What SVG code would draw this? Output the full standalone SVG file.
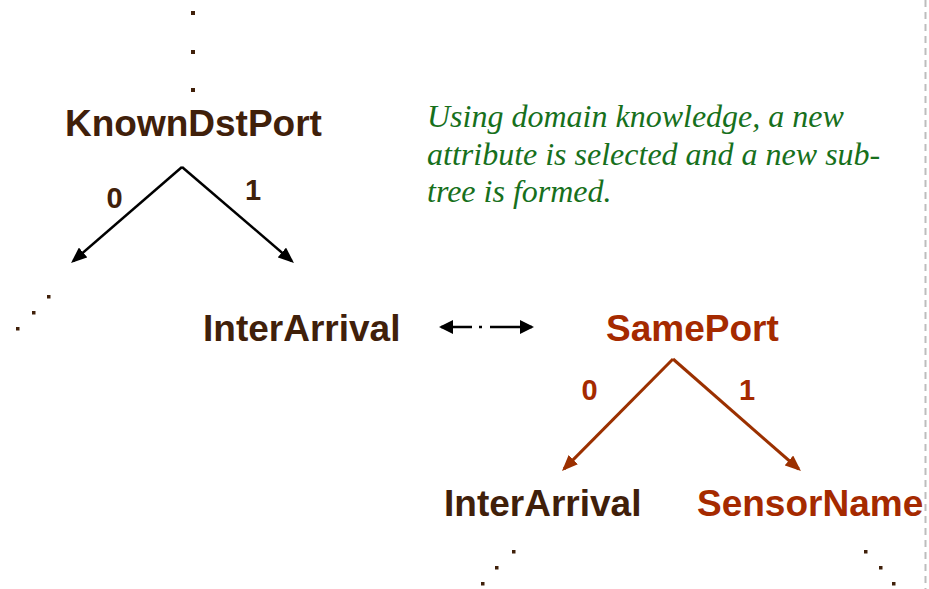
<svg xmlns="http://www.w3.org/2000/svg" width="929" height="589" viewBox="0 0 929 589">
<style>
.node{font-family:"Liberation Sans",Arial,sans-serif;font-weight:bold;font-size:37px}
.brown{fill:#40200a}
.red{fill:#a52a00}
.lbl{font-family:"Liberation Sans",Arial,sans-serif;font-weight:bold;font-size:29px;text-anchor:middle}
.note{font-family:"Liberation Serif","Times New Roman",serif;font-style:italic;font-size:32px;fill:#17701c}
.blk{stroke:#000;stroke-width:2.5;fill:none}
.rd{stroke:#9b3000;stroke-width:3;fill:none}
.dot{fill:#40200a}
</style>
<defs>
<marker id="ahBlack" viewBox="0 0 16 13" refX="13" refY="6.5" markerWidth="16" markerHeight="13" markerUnits="userSpaceOnUse" orient="auto">
<path d="M0,0 L16,6.5 L0,13 z" fill="#000"/>
</marker>
<marker id="ahRed" viewBox="0 0 16 13" refX="13" refY="6.5" markerWidth="16" markerHeight="13" markerUnits="userSpaceOnUse" orient="auto">
<path d="M0,0 L16,6.5 L0,13 z" fill="#9b3000"/>
</marker>
<marker id="ahSmall" viewBox="0 0 14 14" refX="12" refY="7" markerWidth="14" markerHeight="14" markerUnits="userSpaceOnUse" orient="auto-start-reverse">
<path d="M0,0 L14,7 L0,14 z" fill="#000"/>
</marker>
</defs>

<line x1="925.5" y1="0" x2="925.5" y2="589" stroke="#bdbdbd" stroke-width="2" stroke-dasharray="7 5"/>

<g id="dots">
<rect class="dot" x="191" y="11" width="4" height="4"/>
<rect class="dot" x="191" y="50" width="4" height="4"/>
<rect class="dot" x="191" y="88" width="4" height="4"/>
<rect class="dot" x="47" y="295" width="3.5" height="3.5"/>
<rect class="dot" x="32" y="311" width="3.5" height="3.5"/>
<rect class="dot" x="16" y="327" width="3.5" height="3.5"/>
<rect class="dot" x="512" y="550" width="3.5" height="3.5"/>
<rect class="dot" x="495" y="566" width="3.5" height="3.5"/>
<rect class="dot" x="481" y="582" width="3.5" height="3.5"/>
<rect class="dot" x="864" y="550" width="3.5" height="3.5"/>
<rect class="dot" x="879" y="566" width="3.5" height="3.5"/>
<rect class="dot" x="892" y="582" width="3.5" height="3.5"/>
</g>

<g id="n-knowndstport"><text class="node brown" x="65" y="136">KnownDstPort</text></g>
<g id="n-interarrival1"><text class="node brown" x="203" y="341">InterArrival</text></g>
<g id="n-sameport"><text class="node red" x="606" y="341">SamePort</text></g>
<g id="n-interarrival2"><text class="node brown" x="444" y="516">InterArrival</text></g>
<g id="n-sensorname"><text class="node red" x="697" y="516">SensorName</text></g>

<g id="note">
<text class="note" x="427" y="127">Using domain knowledge, a new</text>
<text class="note" x="427" y="165">attribute is selected and a new sub-</text>
<text class="note" x="427" y="202">tree is formed.</text>
</g>

<g id="connectors">
<line class="blk" x1="182" y1="167" x2="73.3" y2="261" marker-end="url(#ahBlack)"/>
<line class="blk" x1="182" y1="167" x2="291.7" y2="261" marker-end="url(#ahBlack)"/>
<text class="lbl brown" x="114.5" y="208">0</text>
<text class="lbl brown" x="253" y="200">1</text>
<line class="rd" x1="673" y1="359" x2="564.1" y2="468.9" marker-end="url(#ahRed)"/>
<line class="rd" x1="673" y1="359" x2="798.7" y2="469" marker-end="url(#ahRed)"/>
<text class="lbl red" x="589.5" y="400">0</text>
<text class="lbl red" x="747" y="400">1</text>
<line x1="441" y1="327" x2="532" y2="327" stroke="#000" stroke-width="2.5" stroke-dasharray="31 7 3 8 44" marker-start="url(#ahSmall)" marker-end="url(#ahSmall)"/>
</g>
</svg>
